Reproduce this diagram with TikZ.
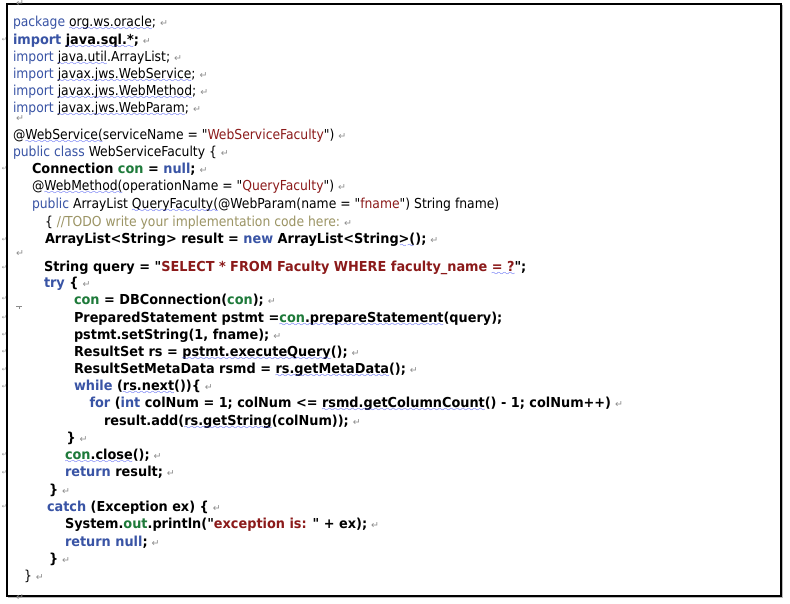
\documentclass[tikz,border=0pt]{standalone}
\usepackage{fontspec}
\usepackage{xcolor}
\newfontfamily\codefont{DejaVu Sans Condensed}
\newfontfamily\codebold{DejaVu Sans Condensed Bold}[FakeStretch=1.04]
\newfontfamily\markfont{DejaVu Sans}
\definecolor{kwblue}{HTML}{3954A5}
\definecolor{strred}{HTML}{8B1A1A}
\definecolor{cgreen}{HTML}{1E7A3A}
\definecolor{cmtcol}{HTML}{9B9464}
\definecolor{pmgrey}{HTML}{8C8C8C}
\definecolor{sqblue}{HTML}{1F2FF0}
\font\wavefont=lasy8
\newsavebox\wvbox
\newcommand\kw[1]{\textcolor{kwblue}{#1}}
\newcommand\qs[1]{\textcolor{strred}{#1}}
\newcommand\cg[1]{\textcolor{cgreen}{#1}}
\newcommand\cmt[1]{\textcolor{cmtcol}{#1}}
\newcommand\pmk{\hspace{4pt}{\markfont\fontsize{9.5}{9}\selectfont\textcolor{pmgrey}{↵}}}
\newcommand\wv[1]{\sbox\wvbox{#1}\rlap{\usebox\wvbox}\xleaders\hbox{\lower4pt\hbox{\wavefont\textcolor{sqblue}{\char58}}}\hskip\wd\wvbox\relax}
\begin{document}
\begin{tikzpicture}[x=1pt,y=-1pt,
  codeline/.style={anchor=base west,inner sep=0pt,outer sep=0pt,font=\codefont\fontsize{13.75}{16}\selectfont},
  boldline/.style={codeline,font=\codebold\fontsize{13.75}{16}\selectfont},
  sidemark/.style={inner sep=0pt,font=\markfont\fontsize{6}{6}\selectfont,text=pmgrey},
  blankmark/.style={sidemark,font=\markfont\fontsize{9.5}{9}\selectfont},
  framebox/.style={draw=black,line width=1.3pt}]
\useasboundingbox (0,0) rectangle (790,603);
\fill[white] (0,0) rectangle (790,603);
\draw[framebox] (7,4) rectangle (781,596);
\draw[pmgrey!60,line width=0.6pt] (782.6,5) -- (782.6,597.6) -- (8,597.6);
% paragraph marks outside text
\node[blankmark] (pm0) at (20,4) {↵};
\node[blankmark] (pmA) at (20,119) {↵};
\node[blankmark] (pmB) at (20,254) {↵};
\node[blankmark] (pmC) at (20,598) {↵};
% left edge marks
\foreach \yy [count=\i] in {40,169,240,268,299,318,335,352,370,387,455,473,507}
  \node[sidemark] (lm\i) at (4.5,\yy) {↵};
\draw[pmgrey,line width=0.6pt] (16,306.5) -- (22,306.5) (19,306.5) -- (19,308.5);
% code lines
\node[codeline] (l1) at (13,26.7) {\kw{package} \wv{org.ws.oracle};\pmk};
\node[boldline] (l2) at (13,44) {\kw{import} \wv{java.sql.*};\pmk};
\node[codeline] (l3) at (13,61) {\kw{import} \wv{java.util}.ArrayList;\pmk};
\node[codeline] (l4) at (13,78.3) {\kw{import} \wv{javax.jws.WebService};\pmk};
\node[codeline] (l5) at (13,95.7) {\kw{import} \wv{javax.jws.WebMethod};\pmk};
\node[codeline] (l6) at (13,112.7) {\kw{import} \wv{javax.jws.WebParam};\pmk};
\node[codeline] (l7) at (13,139) {@\wv{WebService(}serviceName = "\qs{WebServiceFaculty}")\pmk};
\node[codeline] (l8) at (13,156) {\kw{public class} WebServiceFaculty \{\pmk};
\node[boldline] (l9) at (32,173.3) {Connection \cg{con} = \kw{null};\pmk};
\node[codeline] (l10) at (32,190.7) {@\wv{WebMethod(}operationName = "\qs{QueryFaculty}")\pmk};
\node[codeline] (l11) at (32,208.3) {\kw{public} ArrayList \wv{QueryFaculty(}@WebParam(name = "\qs{fname}") String fname)};
\node[codeline] (l12) at (45,226) {\{ \cmt{//TODO write your implementation code here:}\pmk};
\node[boldline] (l13) at (45,243.5) {ArrayList<String> result = \kw{new} ArrayList<String\wv{>(});\pmk};
\node[boldline] (l14) at (44,271) {String query = "\qs{SELECT * FROM Faculty WHERE faculty\_name \wv{= ?}}";};
\node[boldline] (l15) at (44,287) {\kw{try} \{\pmk};
\node[boldline] (l16) at (74,304) {\cg{con} = DBConnection(\cg{con});\pmk};
\node[boldline] (l17) at (74,322.7) {PreparedStatement pstmt =\wv{\cg{con}.prepareStatement}(query);};
\node[boldline] (l18) at (74,339) {pstmt.setString(1, fname);\pmk};
\node[boldline] (l19) at (74,356) {ResultSet rs = \wv{pstmt.executeQuery}();\pmk};
\node[boldline] (l20) at (74,373) {ResultSetMetaData rsmd = \wv{rs.getMetaData}();\pmk};
\node[boldline] (l21) at (74,390) {\kw{while} (\wv{rs.next}())\{\pmk};
\node[boldline] (l22) at (89.5,407.3) {\kw{for} (\kw{int} colNum = 1; colNum <= \wv{rsmd.getColumnCount}() - 1; colNum++)\pmk};
\node[boldline] (l23) at (104,425) {result.add(\wv{rs.getString}(colNum));\pmk};
\node[boldline] (l24) at (66.5,442.5) {\}\pmk};
\node[boldline] (l25) at (65,459.5) {\wv{\cg{con}.close}();\pmk};
\node[boldline] (l26) at (65,476.7) {\kw{return} result;\pmk};
\node[boldline] (l27) at (49,494) {\}\pmk};
\node[boldline] (l28) at (47,511.5) {\kw{catch} (Exception ex) \{\pmk};
\node[boldline] (l29) at (65,528.3) {System.\cg{out}.println("\qs{exception is: }" + ex);\pmk};
\node[boldline] (l30) at (65,546) {\kw{return null};\pmk};
\node[boldline] (l31) at (49,563) {\}\pmk};
\node[codeline] (l32) at (24,580) {\}\pmk};
\end{tikzpicture}
\end{document}
